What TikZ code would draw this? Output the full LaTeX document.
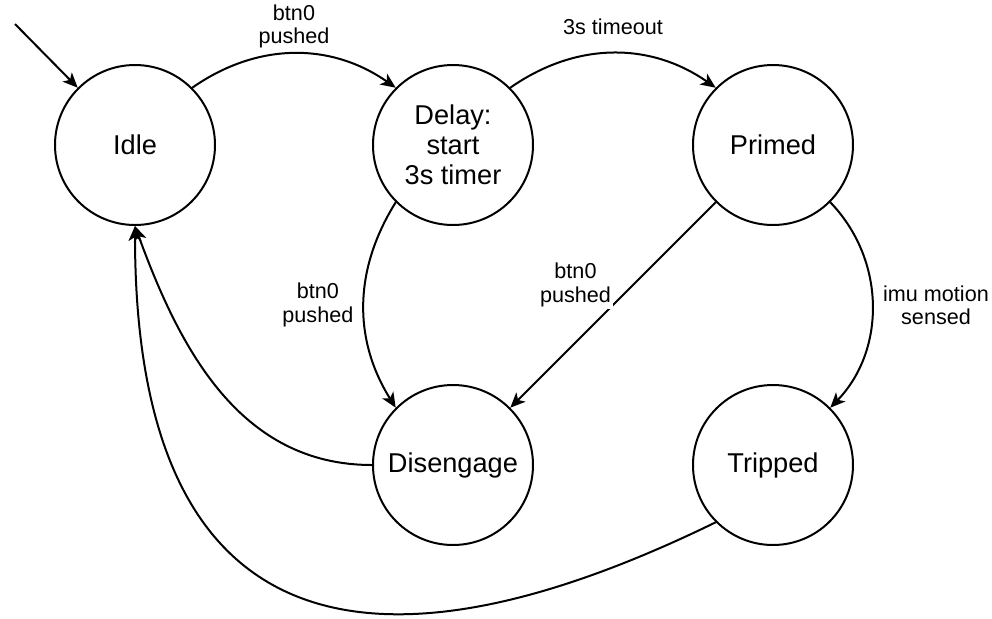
\documentclass[tikz,border=0pt]{standalone}
\usepackage{fontspec}
\setmainfont{Liberation Sans}
\usetikzlibrary{arrows.meta, positioning}

\begin{document}
\begin{tikzpicture}[
  node distance=78pt,
  state/.style={draw=black, line width=1pt, circle, minimum size=80pt,
                inner sep=0pt, align=center, font=\fontsize{13.6}{15}\selectfont},
  lbl/.style={align=center, font=\fontsize{10.8}{11.7}\selectfont, inner sep=1pt},
  ar/.style={-{Stealth[length=7.5pt, width=6.5pt, inset=2pt]}, line width=1pt},
]
\useasboundingbox (-67.5pt,-236.5pt) rectangle (428.5pt,72.5pt);

%% top row
\node[state] (idle) {Idle};
\node[state, right=of idle] (delay) {Delay:\\start\\3s timer};
\node[state, right=79pt of delay] (primed) {Primed};

%% bottom row
\node[state, below=79pt of delay] (dis) {Disengage};
\node[state, below=79pt of primed] (trip) {Tripped};

%% entry point
\coordinate (init) at (-60pt,60.5pt);

\draw[ar] (init) -- (idle.135);
\draw[ar] (idle.45) to[bend left=35]
  node[lbl, midway, yshift=13.5pt] {btn0\\pushed} (delay.135);
\draw[ar] (delay.45) to[bend left=35]
  node[lbl, midway, yshift=13pt] {3s timeout} (primed.135);
\draw[ar] (delay.225) to[bend right=32]
  node[lbl, midway, xshift=-23pt] {btn0\\pushed} (dis.135);
\draw[ar] (primed.225) --
  node[lbl, midway, fill=white, xshift=-18.75pt, yshift=10pt] {btn0\\pushed} (dis.45);
\draw[ar] (primed.-45) to[bend left=44]
  node[lbl, midway, xshift=32pt] {imu motion\\sensed} (trip.45);
\draw[ar] (dis.west) to[out=180, in=-70] (idle.south);
\draw[ar] (trip.225) to[out=206, in=-90, out looseness=1, in looseness=2] (idle.south);
\end{tikzpicture}
\end{document}
